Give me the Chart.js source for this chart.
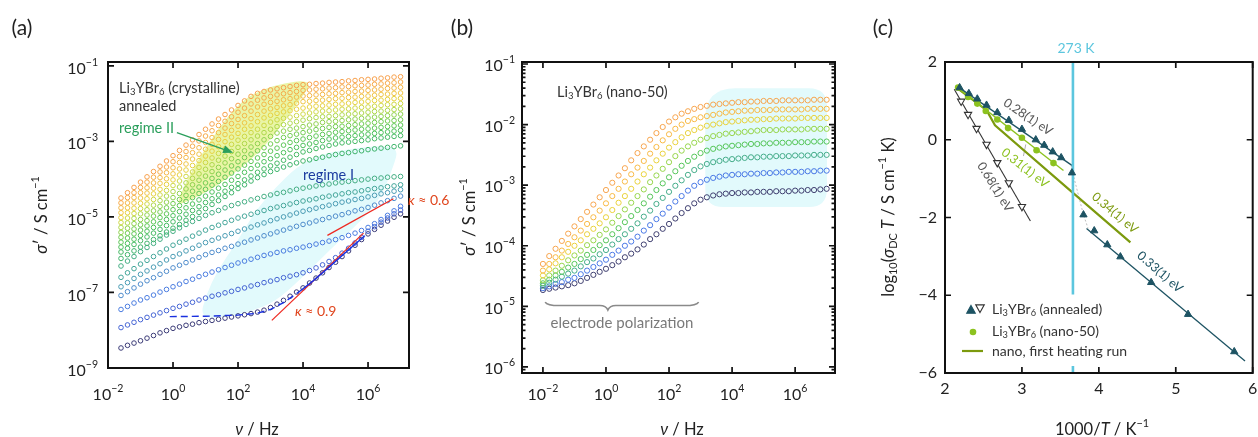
<!DOCTYPE html>
<html>
<head>
<meta charset="utf-8">
<script src="https://cdn.jsdelivr.net/npm/chart.js@4.4.1/dist/chart.umd.min.js"></script>
<style>
html, body { margin: 0; padding: 0; background: #fff; }
#wrap { position: relative; width: 1258px; height: 437px; overflow: hidden; }
canvas { position: absolute; top: 0; }
</style>
</head>
<body>
<div id="wrap">
  <canvas id="panelA" width="460" height="437" style="left:0"></canvas>
  <canvas id="panelB" width="420" height="437" style="left:420px"></canvas>
  <canvas id="panelC" width="418" height="437" style="left:840px"></canvas>
</div>
<script>
// ---------- data (log10 values) ----------

// (a) crystalline, annealed: log10(nu / Hz) and log10(sigma' / S cm-1)
const logFreqA = [-1.6,-1.4,-1.2,-1.0,-0.8,-0.6,-0.4,-0.2,0,0.2,0.4,0.6,0.8,1.0,1.2,1.4,1.6,1.8,2.0,2.2,2.4,2.6,2.8,3.0,3.2,3.4,3.6,3.8,4.0,4.2,4.4,4.6,4.8,5.0,5.2,5.4,5.6,5.8,6.0,6.2,6.4,6.6,6.8,7.0];
const crys01 = [-4.50,-4.36,-4.22,-4.08,-3.94,-3.80,-3.66,-3.52,-3.38,-3.24,-3.10,-2.96,-2.82,-2.68,-2.54,-2.41,-2.29,-2.17,-2.05,-1.93,-1.81,-1.73,-1.68,-1.64,-1.61,-1.58,-1.55,-1.52,-1.50,-1.49,-1.47,-1.46,-1.44,-1.43,-1.42,-1.40,-1.39,-1.37,-1.36,-1.35,-1.33,-1.32,-1.30,-1.29];
const crys02 = [-4.63,-4.49,-4.36,-4.22,-4.08,-3.95,-3.81,-3.68,-3.54,-3.40,-3.27,-3.13,-2.99,-2.86,-2.72,-2.58,-2.47,-2.35,-2.23,-2.12,-2.01,-1.91,-1.85,-1.81,-1.77,-1.74,-1.71,-1.68,-1.65,-1.64,-1.62,-1.61,-1.59,-1.58,-1.56,-1.55,-1.53,-1.52,-1.51,-1.49,-1.48,-1.46,-1.45,-1.43];
const crys03 = [-4.76,-4.63,-4.49,-4.36,-4.23,-4.10,-3.96,-3.83,-3.70,-3.56,-3.43,-3.30,-3.17,-3.03,-2.90,-2.77,-2.65,-2.53,-2.42,-2.32,-2.20,-2.09,-2.02,-1.97,-1.94,-1.90,-1.87,-1.83,-1.80,-1.79,-1.77,-1.76,-1.74,-1.73,-1.71,-1.70,-1.68,-1.67,-1.65,-1.64,-1.62,-1.60,-1.59,-1.57];
const crys04 = [-4.89,-4.76,-4.63,-4.50,-4.37,-4.24,-4.11,-3.99,-3.86,-3.73,-3.60,-3.47,-3.34,-3.21,-3.08,-2.95,-2.82,-2.71,-2.60,-2.51,-2.40,-2.29,-2.20,-2.14,-2.10,-2.06,-2.03,-1.99,-1.95,-1.94,-1.92,-1.91,-1.89,-1.87,-1.86,-1.84,-1.83,-1.81,-1.80,-1.78,-1.76,-1.75,-1.73,-1.72];
const crys05 = [-5.02,-4.89,-4.77,-4.64,-4.52,-4.39,-4.27,-4.14,-4.02,-3.89,-3.76,-3.64,-3.51,-3.39,-3.26,-3.14,-3.01,-2.89,-2.79,-2.68,-2.59,-2.48,-2.38,-2.31,-2.26,-2.22,-2.19,-2.15,-2.12,-2.09,-2.07,-2.06,-2.04,-2.02,-2.01,-1.99,-1.97,-1.96,-1.94,-1.92,-1.91,-1.89,-1.87,-1.86];
const crys06 = [-5.15,-5.03,-4.91,-4.78,-4.66,-4.54,-4.42,-4.30,-4.17,-4.05,-3.93,-3.81,-3.69,-3.56,-3.44,-3.32,-3.20,-3.08,-2.97,-2.87,-2.77,-2.68,-2.58,-2.49,-2.43,-2.39,-2.36,-2.32,-2.28,-2.25,-2.22,-2.20,-2.19,-2.17,-2.15,-2.14,-2.12,-2.10,-2.09,-2.07,-2.05,-2.03,-2.02,-2.00];
const crys07 = [-5.28,-5.16,-5.04,-4.92,-4.81,-4.69,-4.57,-4.45,-4.33,-4.21,-4.10,-3.98,-3.86,-3.74,-3.62,-3.50,-3.39,-3.27,-3.16,-3.06,-2.96,-2.86,-2.77,-2.68,-2.61,-2.56,-2.52,-2.48,-2.44,-2.40,-2.37,-2.35,-2.34,-2.32,-2.30,-2.28,-2.27,-2.25,-2.23,-2.21,-2.20,-2.18,-2.16,-2.14];
const crys08 = [-5.41,-5.30,-5.18,-5.07,-4.95,-4.84,-4.72,-4.61,-4.49,-4.38,-4.26,-4.15,-4.03,-3.92,-3.80,-3.69,-3.57,-3.46,-3.34,-3.25,-3.15,-3.06,-2.96,-2.87,-2.78,-2.73,-2.68,-2.65,-2.61,-2.57,-2.54,-2.50,-2.48,-2.47,-2.45,-2.43,-2.41,-2.39,-2.38,-2.36,-2.34,-2.32,-2.30,-2.28];
const crys09 = [-5.54,-5.43,-5.32,-5.21,-5.10,-4.98,-4.87,-4.76,-4.65,-4.54,-4.43,-4.32,-4.21,-4.10,-3.98,-3.87,-3.76,-3.65,-3.54,-3.43,-3.34,-3.25,-3.17,-3.07,-2.98,-2.90,-2.85,-2.81,-2.77,-2.73,-2.69,-2.66,-2.63,-2.61,-2.60,-2.58,-2.56,-2.54,-2.52,-2.50,-2.48,-2.46,-2.45,-2.43];
const crys10 = [-5.67,-5.56,-5.45,-5.35,-5.24,-5.13,-5.02,-4.92,-4.81,-4.70,-4.59,-4.49,-4.38,-4.27,-4.16,-4.06,-3.95,-3.84,-3.73,-3.63,-3.53,-3.44,-3.35,-3.26,-3.18,-3.10,-3.03,-2.98,-2.94,-2.90,-2.86,-2.82,-2.79,-2.76,-2.74,-2.72,-2.70,-2.68,-2.67,-2.65,-2.63,-2.61,-2.59,-2.57];
const crys11 = [-5.80,-5.70,-5.59,-5.49,-5.38,-5.28,-5.18,-5.07,-4.97,-4.86,-4.76,-4.66,-4.55,-4.45,-4.34,-4.24,-4.14,-4.03,-3.93,-3.82,-3.72,-3.63,-3.54,-3.46,-3.38,-3.30,-3.22,-3.16,-3.11,-3.07,-3.03,-2.98,-2.94,-2.91,-2.89,-2.87,-2.85,-2.83,-2.81,-2.79,-2.77,-2.75,-2.73,-2.71];
const crys12 = [-5.93,-5.83,-5.73,-5.63,-5.53,-5.43,-5.33,-5.23,-5.13,-5.03,-4.93,-4.83,-4.73,-4.62,-4.52,-4.42,-4.32,-4.22,-4.12,-4.02,-3.92,-3.82,-3.73,-3.65,-3.58,-3.50,-3.42,-3.35,-3.28,-3.24,-3.19,-3.15,-3.11,-3.07,-3.04,-3.02,-3.00,-2.98,-2.96,-2.93,-2.91,-2.89,-2.87,-2.85];
const crys13 = [-6.10,-6.00,-5.90,-5.80,-5.70,-5.60,-5.50,-5.40,-5.30,-5.20,-5.09,-4.99,-4.88,-4.78,-4.67,-4.57,-4.46,-4.36,-4.25,-4.15,-4.05,-3.96,-3.88,-3.80,-3.74,-3.68,-3.62,-3.57,-3.52,-3.49,-3.45,-3.42,-3.38,-3.35,-3.32,-3.30,-3.27,-3.25,-3.22,-3.20,-3.18,-3.16,-3.14,-3.12];
const crys14 = [-6.30,-6.17,-6.05,-5.92,-5.81,-5.70,-5.59,-5.48,-5.38,-5.29,-5.20,-5.12,-5.04,-4.96,-4.89,-4.83,-4.76,-4.70,-4.65,-4.60,-4.55,-4.51,-4.46,-4.42,-4.38,-4.35,-4.31,-4.27,-4.24,-4.21,-4.18,-4.15,-4.13,-4.10,-4.08,-4.06,-4.04,-4.02,-4.00,-3.98,-3.97,-3.95,-3.94,-3.93];
const crys15 = [-6.60,-6.48,-6.37,-6.25,-6.15,-6.05,-5.95,-5.85,-5.75,-5.67,-5.59,-5.51,-5.43,-5.35,-5.28,-5.22,-5.15,-5.09,-5.03,-4.98,-4.93,-4.88,-4.83,-4.78,-4.74,-4.70,-4.66,-4.62,-4.58,-4.55,-4.52,-4.48,-4.45,-4.42,-4.39,-4.36,-4.34,-4.31,-4.28,-4.25,-4.23,-4.20,-4.18,-4.15];
const crys16 = [-6.85,-6.74,-6.63,-6.52,-6.43,-6.33,-6.24,-6.14,-6.05,-5.98,-5.90,-5.83,-5.75,-5.68,-5.62,-5.56,-5.50,-5.44,-5.38,-5.32,-5.27,-5.21,-5.16,-5.10,-5.05,-5.00,-4.95,-4.90,-4.85,-4.81,-4.77,-4.73,-4.69,-4.65,-4.61,-4.58,-4.54,-4.51,-4.47,-4.43,-4.39,-4.36,-4.32,-4.28];
const crys17 = [-7.08,-6.98,-6.88,-6.78,-6.69,-6.61,-6.52,-6.44,-6.35,-6.28,-6.21,-6.14,-6.07,-6.00,-5.94,-5.89,-5.83,-5.78,-5.72,-5.67,-5.61,-5.56,-5.50,-5.45,-5.40,-5.35,-5.30,-5.25,-5.20,-5.16,-5.11,-5.07,-5.02,-4.98,-4.94,-4.89,-4.84,-4.80,-4.75,-4.69,-4.63,-4.57,-4.51,-4.45];
const crys18 = [-7.45,-7.37,-7.28,-7.20,-7.14,-7.07,-6.99,-6.92,-6.85,-6.78,-6.71,-6.65,-6.58,-6.52,-6.46,-6.40,-6.34,-6.28,-6.22,-6.17,-6.12,-6.07,-6.02,-5.98,-5.94,-5.90,-5.87,-5.83,-5.80,-5.76,-5.72,-5.68,-5.64,-5.60,-5.55,-5.49,-5.43,-5.36,-5.28,-5.18,-5.07,-4.96,-4.84,-4.72];
const crys19 = [-7.93,-7.86,-7.79,-7.72,-7.66,-7.60,-7.54,-7.48,-7.42,-7.37,-7.31,-7.26,-7.20,-7.15,-7.10,-7.06,-7.01,-6.97,-6.92,-6.88,-6.83,-6.79,-6.74,-6.70,-6.66,-6.61,-6.57,-6.53,-6.48,-6.42,-6.35,-6.27,-6.18,-6.08,-5.96,-5.83,-5.69,-5.54,-5.38,-5.26,-5.14,-5.03,-4.92,-4.82];
const crys20 = [-8.47,-8.40,-8.34,-8.28,-8.21,-8.14,-8.07,-8.01,-7.95,-7.91,-7.87,-7.84,-7.80,-7.77,-7.74,-7.71,-7.68,-7.65,-7.62,-7.59,-7.56,-7.52,-7.47,-7.40,-7.31,-7.21,-7.10,-6.99,-6.88,-6.75,-6.62,-6.48,-6.34,-6.20,-6.05,-5.90,-5.75,-5.60,-5.45,-5.33,-5.22,-5.11,-5.01,-4.92];

// (a) fit of the lowest curve (dashed part + solid part) and the two power-law lines
const fitDashX = [-0.1, 1.0, 2.0, 2.6, 3.0, 3.4, 3.85];
const fitDashY = [-7.64, -7.63, -7.60, -7.55, -7.45, -7.27, -7.00];
const fitSolidX = [3.85, 4.3, 4.8, 5.3, 5.9];
const fitSolidY = [-7.00, -6.70, -6.33, -5.95, -5.50];
const kappa06X = [4.75, 6.78], kappa06Y = [-5.49, -4.52];
const kappa09X = [3.04, 5.86], kappa09Y = [-7.74, -5.43];

// (a) shaded regimes, outline points [log nu, log sigma]
const regimeTwo = [[0.09,-4.68],[0.55,-3.80],[1.39,-2.66],[2.09,-1.95],[2.71,-1.63],[3.45,-1.45],[4.06,-1.39],[4.22,-1.52],[3.91,-1.90],[2.74,-3.27],[1.29,-4.23],[0.37,-4.62]];
const regimeOne = [[0.83,-7.67],[1.02,-7.06],[1.38,-6.40],[1.91,-5.74],[2.52,-4.86],[3.14,-4.23],[3.82,-3.67],[4.52,-3.35],[5.45,-3.19],[6.52,-3.11],[6.92,-3.22],[6.80,-3.62],[6.37,-4.54],[5.75,-5.13],[4.83,-5.87],[3.91,-6.66],[3.14,-7.25],[2.37,-7.51],[1.60,-7.67]];
const arrowTwo = [[0.12, -2.77], [1.85, -3.30]];

// (b) nano-50
const logFreqB = [-2.0,-1.8,-1.6,-1.4,-1.2,-1.0,-0.8,-0.6,-0.4,-0.2,0,0.2,0.4,0.6,0.8,1.0,1.2,1.4,1.6,1.8,2.0,2.2,2.4,2.6,2.8,3.0,3.2,3.4,3.6,3.8,4.0,4.2,4.4,4.6,4.8,5.0,5.2,5.4,5.6,5.8,6.0,6.2,6.4,6.6,6.8,7.0];
const nano1 = [-4.30,-4.17,-4.05,-3.92,-3.80,-3.68,-3.56,-3.44,-3.32,-3.20,-3.08,-2.96,-2.84,-2.72,-2.59,-2.47,-2.36,-2.25,-2.14,-2.04,-1.95,-1.88,-1.82,-1.78,-1.74,-1.71,-1.69,-1.67,-1.66,-1.65,-1.64,-1.63,-1.63,-1.62,-1.62,-1.61,-1.61,-1.61,-1.60,-1.60,-1.60,-1.60,-1.60,-1.59,-1.59,-1.59];
const nano2 = [-4.41,-4.30,-4.19,-4.08,-3.97,-3.86,-3.75,-3.64,-3.53,-3.42,-3.30,-3.18,-3.06,-2.94,-2.82,-2.71,-2.60,-2.48,-2.37,-2.26,-2.16,-2.07,-2.00,-1.94,-1.91,-1.88,-1.86,-1.84,-1.82,-1.80,-1.79,-1.78,-1.77,-1.77,-1.76,-1.76,-1.76,-1.75,-1.75,-1.75,-1.75,-1.75,-1.74,-1.74,-1.74,-1.74];
const nano3 = [-4.49,-4.39,-4.29,-4.19,-4.10,-4.00,-3.91,-3.81,-3.72,-3.63,-3.53,-3.41,-3.29,-3.18,-3.06,-2.94,-2.82,-2.71,-2.59,-2.48,-2.38,-2.29,-2.21,-2.14,-2.09,-2.05,-2.02,-2.00,-1.98,-1.96,-1.95,-1.94,-1.93,-1.92,-1.92,-1.91,-1.91,-1.90,-1.90,-1.90,-1.90,-1.89,-1.89,-1.89,-1.89,-1.89];
const nano4 = [-4.57,-4.49,-4.41,-4.33,-4.24,-4.16,-4.08,-3.99,-3.91,-3.82,-3.73,-3.62,-3.51,-3.40,-3.29,-3.18,-3.07,-2.95,-2.84,-2.73,-2.62,-2.52,-2.43,-2.36,-2.30,-2.25,-2.22,-2.19,-2.17,-2.15,-2.14,-2.13,-2.12,-2.11,-2.10,-2.09,-2.09,-2.09,-2.08,-2.08,-2.08,-2.08,-2.07,-2.07,-2.07,-2.07];
const nano5 = [-4.62,-4.56,-4.49,-4.43,-4.36,-4.30,-4.22,-4.15,-4.07,-3.99,-3.91,-3.81,-3.71,-3.61,-3.51,-3.41,-3.30,-3.19,-3.08,-2.97,-2.87,-2.77,-2.68,-2.60,-2.53,-2.47,-2.43,-2.40,-2.38,-2.36,-2.35,-2.34,-2.33,-2.32,-2.32,-2.31,-2.31,-2.30,-2.30,-2.30,-2.29,-2.29,-2.29,-2.28,-2.28,-2.28];
const nano6 = [-4.66,-4.61,-4.56,-4.51,-4.46,-4.41,-4.34,-4.27,-4.21,-4.14,-4.07,-3.98,-3.89,-3.81,-3.72,-3.63,-3.52,-3.42,-3.31,-3.21,-3.11,-3.01,-2.92,-2.83,-2.75,-2.69,-2.65,-2.62,-2.60,-2.58,-2.57,-2.56,-2.55,-2.54,-2.54,-2.53,-2.53,-2.52,-2.52,-2.52,-2.51,-2.51,-2.51,-2.50,-2.50,-2.50];
const nano7 = [-4.70,-4.67,-4.63,-4.60,-4.56,-4.53,-4.47,-4.41,-4.35,-4.29,-4.23,-4.15,-4.08,-4.00,-3.93,-3.85,-3.75,-3.66,-3.56,-3.47,-3.37,-3.27,-3.18,-3.09,-3.01,-2.95,-2.91,-2.88,-2.86,-2.84,-2.83,-2.82,-2.82,-2.81,-2.81,-2.80,-2.80,-2.79,-2.79,-2.78,-2.78,-2.78,-2.77,-2.77,-2.76,-2.76];
const nano8 = [-4.73,-4.71,-4.69,-4.67,-4.65,-4.62,-4.58,-4.53,-4.48,-4.43,-4.38,-4.32,-4.26,-4.19,-4.13,-4.06,-3.98,-3.89,-3.81,-3.72,-3.64,-3.55,-3.46,-3.38,-3.30,-3.24,-3.20,-3.17,-3.15,-3.14,-3.13,-3.13,-3.12,-3.12,-3.11,-3.11,-3.11,-3.10,-3.10,-3.10,-3.09,-3.09,-3.08,-3.08,-3.07,-3.06];
const plateauBox = [3.15, 7.01, -1.40, -3.36]; // log nu from/to, log sigma top/bottom
const braceB = [-1.93, 0.06, 2.94, -4.93];     // log nu left, tip, right; log sigma

// (c) Arrhenius plot: 1000/T and log10(sigma_DC T)
const annealedX = [2.19, 2.31, 2.42, 2.54, 2.68, 2.83, 3.00, 3.18, 3.29, 3.40, 3.51, 3.65, 3.80, 3.94, 4.11, 4.28, 4.68, 5.16, 5.76];
const annealedY = [1.34, 1.19, 1.05, 0.89, 0.70, 0.50, 0.27, 0.00, -0.14, -0.31, -0.46, -0.85, -1.93, -2.34, -2.70, -3.01, -3.67, -4.49, -5.45];
const quenchX = [2.21, 2.30, 2.41, 2.54, 2.68, 2.83, 3.00];
const quenchY = [0.99, 0.65, 0.29, -0.12, -0.59, -1.11, -1.72];
const nanoX = [2.17, 2.30, 2.42, 2.53, 2.68, 2.82, 3.00, 3.19, 3.41];
const nanoY = [1.34, 1.10, 0.93, 0.74, 0.52, 0.30, 0.05, -0.27, -0.60];
const firstRunX = [2.15, 2.54, 2.65, 3.66, 4.41];
const firstRunY = [1.34, 0.76, 0.37, -1.36, -2.64];
const fitHighX = [2.17, 3.65], fitHighY = [1.36, -0.66];
const fitLowX = [3.84, 5.90], fitLowY = [-2.28, -5.69];
const fitQuenchX = [2.12, 3.11], fitQuenchY = [1.30, -2.09];
const fitNanoX = [2.15, 3.54], fitNanoY = [1.36, -0.79];
const jumpX = [3.64, 3.66, 3.80, 3.86], jumpY = [-0.66, -0.85, -1.93, -2.28];
const leaderX = [3.05, 3.02], leaderY = [-0.12, -0.42];
const line273 = 1000 / 273;

// tick values
const ticksAx = [-2, 0, 2, 4, 6], ticksAy = [-1, -3, -5, -7, -9];
const ticksBx = [-2, 0, 2, 4, 6], ticksBy = [-1, -2, -3, -4, -5, -6];
const ticksCx = [2, 3, 4, 5, 6], ticksCy = [2, 0, -2, -4, -6];

// ---------- helpers ----------
const FONT = 'Lato, "Open Sans", sans-serif';
Chart.defaults.font.family = FONT;

function fnt(size, italic) {
    return (italic ? 'italic ' : '') + size + 'px ' + FONT;
}

// text with italic / sub / sup pieces
function rich(ctx, parts, x, y, o) {
    o = o || {};
    const fs = o.size || 15;
    ctx.save();
    ctx.translate(x, y);
    if (o.rot) ctx.rotate(o.rot * Math.PI / 180);
    ctx.fillStyle = o.color || '#222';
    ctx.textBaseline = 'middle';
    ctx.textAlign = 'left';
    const items = parts.map(p => {
        const k = p[1] || '';
        const small = k === 'sup' || k === 'sub';
        const f = fnt(small ? fs * 0.66 : fs, k === 'i');
        ctx.font = f;
        return { t: p[0], f: f, w: ctx.measureText(p[0]).width, dy: k === 'sup' ? -fs * 0.4 : (k === 'sub' ? fs * 0.3 : 0) };
    });
    const total = items.reduce((s, it) => s + it.w, 0);
    let cx = o.align === 'center' ? -total / 2 : (o.align === 'right' ? -total : 0);
    items.forEach(it => {
        ctx.font = it.f;
        ctx.fillText(it.t, cx, it.dy);
        cx += it.w;
    });
    ctx.restore();
}

const minus = v => (v < 0 ? '\u2212' + (-v) : String(v));
const powLabel = v => [['10'], [minus(v), 'sup']];

function drawFrame(chart, o) {
    const ctx = chart.ctx, a = chart.chartArea;
    const X = v => chart.scales.x.getPixelForValue(o.log ? 10 ** v : v);
    const Y = v => chart.scales.y.getPixelForValue(o.log ? 10 ** v : v);
    ctx.save();
    ctx.strokeStyle = '#111';
    ctx.lineWidth = 1.7;
    ctx.beginPath();
    o.xt.forEach(v => {
        const p = X(v);
        ctx.moveTo(p, a.bottom); ctx.lineTo(p, a.bottom - 6);
        ctx.moveTo(p, a.top); ctx.lineTo(p, a.top + 6);
    });
    o.yt.forEach(v => {
        const p = Y(v);
        ctx.moveTo(a.left, p); ctx.lineTo(a.left + 6, p);
        ctx.moveTo(a.right, p); ctx.lineTo(a.right - 6, p);
    });
    (o.ym || []).forEach(v => {
        const p = chart.scales.y.getPixelForValue(v);
        ctx.moveTo(a.left, p); ctx.lineTo(a.left + 3.5, p);
        ctx.moveTo(a.right, p); ctx.lineTo(a.right - 3.5, p);
    });
    ctx.stroke();
    ctx.lineWidth = 2;
    ctx.strokeRect(a.left, a.top, a.right - a.left, a.bottom - a.top);
    o.xt.forEach(v => rich(ctx, o.lab(v), X(v), a.bottom + o.xdy, { size: 16, align: 'center' }));
    o.yt.forEach(v => rich(ctx, o.lab(v), a.left - o.ydx, Y(v) + o.ydy, { size: 16, align: 'right' }));
    ctx.restore();
}

// closed smooth outline through midpoints
function blob(ctx, pts) {
    const n = pts.length;
    const mid = (p, q) => [(p[0] + q[0]) / 2, (p[1] + q[1]) / 2];
    const m0 = mid(pts[n - 1], pts[0]);
    ctx.beginPath();
    ctx.moveTo(m0[0], m0[1]);
    for (let i = 0; i < n; i++) {
        const m = mid(pts[i], pts[(i + 1) % n]);
        ctx.quadraticCurveTo(pts[i][0], pts[i][1], m[0], m[1]);
    }
    ctx.closePath();
}

function roundBox(ctx, x0, y0, x1, y1, r) {
    ctx.beginPath();
    ctx.moveTo(x0 + r[0], y0);
    ctx.lineTo(x1 - r[1], y0); ctx.quadraticCurveTo(x1, y0, x1, y0 + r[1]);
    ctx.lineTo(x1, y1 - r[2]); ctx.quadraticCurveTo(x1, y1, x1 - r[2], y1);
    ctx.lineTo(x0 + r[3], y1); ctx.quadraticCurveTo(x0, y1, x0, y1 - r[3]);
    ctx.lineTo(x0, y0 + r[0]); ctx.quadraticCurveTo(x0, y0, x0 + r[0], y0);
    ctx.closePath();
}

const logPts = (xs, ys) => xs.map((v, i) => ({ x: 10 ** v, y: 10 ** ys[i] }));
const linPts = (xs, ys) => xs.map((v, i) => ({ x: v, y: ys[i] }));

function makeChart(id, pad, xs, ys, datasets, under, over) {
    return new Chart(document.getElementById(id), {
        type: 'scatter',
        data: { datasets: datasets },
        options: {
            responsive: false,
            animation: false,
            devicePixelRatio: 1,
            events: [],
            layout: { padding: pad },
            plugins: { legend: { display: false }, tooltip: { enabled: false } },
            scales: {
                x: Object.assign({ display: false, bounds: 'data' }, xs),
                y: Object.assign({ display: false, bounds: 'data' }, ys)
            }
        },
        plugins: [{
            id: 'deco',
            beforeDatasetsDraw: c => { if (under) under(c); },
            afterDatasetsDraw: c => over(c)
        }]
    });
}

function circles(points, color, r) {
    return {
        data: points, showLine: false, pointRadius: r, pointBorderWidth: 1,
        pointBackgroundColor: 'rgba(0,0,0,0)', pointBorderColor: color, borderColor: color, order: 5
    };
}

function line(points, color, width, extra) {
    return Object.assign({
        data: points, showLine: true, pointRadius: 0, borderColor: color, borderWidth: width, order: 3
    }, extra || {});
}

// ---------- panel (a) ----------
const crysCurves = [crys01, crys02, crys03, crys04, crys05, crys06, crys07, crys08, crys09, crys10,
    crys11, crys12, crys13, crys14, crys15, crys16, crys17, crys18, crys19, crys20];
const crysColors = ['#f7a04c', '#f6ab4a', '#f4b747', '#efc544', '#e6d140', '#cdd845', '#aed74a', '#8fd24e', '#72cc52', '#5cc656',
    '#4dc05c', '#45b964', '#40b46c', '#45ae84', '#44a69a', '#4a9cb4', '#4f8ccc', '#4a7ce0', '#4564d4', '#3b3b77'];

const dsA = crysCurves.map((c, k) => circles(logPts(logFreqA, c), crysColors[k], 2.3));
dsA.push(line(logPts(fitDashX, fitDashY), '#1a30e0', 1.4, { borderDash: [7, 4], order: 1 }));
dsA.push(line(logPts(fitSolidX, fitSolidY), '#1a30e0', 1.4, { order: 1 }));
dsA.push(line(logPts(kappa06X, kappa06Y), '#ee2a22', 1.3, { order: 1 }));
dsA.push(line(logPts(kappa09X, kappa09Y), '#ee2a22', 1.3, { order: 1 }));

makeChart('panelA', { left: 108, right: 51, top: 62, bottom: 69 },
    { type: 'logarithmic', min: 10 ** -2, max: 10 ** 7.26 },
    { type: 'logarithmic', min: 10 ** -9, max: 10 ** -0.9 },
    dsA,
    c => {
        const ctx = c.ctx, sx = c.scales.x, sy = c.scales.y;
        const px = p => [sx.getPixelForValue(10 ** p[0]), sy.getPixelForValue(10 ** p[1])];
        ctx.save();
        ctx.fillStyle = '#e2fafc';
        blob(ctx, regimeOne.map(px)); ctx.fill();
        ctx.fillStyle = '#e9f5a6';
        blob(ctx, regimeTwo.map(px)); ctx.fill();
        ctx.restore();
    },
    c => {
        const ctx = c.ctx, sx = c.scales.x, sy = c.scales.y;
        drawFrame(c, { log: true, xt: ticksAx, yt: ticksAy, lab: powLabel, xdy: 27, ydx: 10, ydy: 3 });
        // arrow to regime II
        const p0 = [sx.getPixelForValue(10 ** arrowTwo[0][0]), sy.getPixelForValue(10 ** arrowTwo[0][1])];
        const p1 = [sx.getPixelForValue(10 ** arrowTwo[1][0]), sy.getPixelForValue(10 ** arrowTwo[1][1])];
        const ang = Math.atan2(p1[1] - p0[1], p1[0] - p0[0]);
        ctx.save();
        ctx.strokeStyle = ctx.fillStyle = '#2b9f5c';
        ctx.lineWidth = 1.4;
        ctx.beginPath(); ctx.moveTo(p0[0], p0[1]);
        ctx.lineTo(p1[0] - 7 * Math.cos(ang), p1[1] - 7 * Math.sin(ang)); ctx.stroke();
        ctx.translate(p1[0], p1[1]); ctx.rotate(ang);
        ctx.beginPath(); ctx.moveTo(0, 0); ctx.lineTo(-10, -4); ctx.lineTo(-10, 4); ctx.closePath(); ctx.fill();
        ctx.restore();

        rich(ctx, [['Li'], ['3', 'sub'], ['YBr'], ['6', 'sub'], [' (crystalline)']], 119, 88, { size: 14.5, color: '#333' });
        rich(ctx, [['annealed']], 119, 106, { size: 14.5, color: '#333' });
        rich(ctx, [['regime II']], 119, 128, { size: 14.5, color: '#2b9f5c' });
        rich(ctx, [['regime I']], 303, 175, { size: 14.5, color: '#1c3ca0' });
        rich(ctx, [['\u03ba', 'i'], [' \u2248 0.9']], 295, 311, { size: 14, color: '#e0461e' });
        rich(ctx, [['\u03ba', 'i'], [' \u2248 0.6']], 408, 200, { size: 14, color: '#e0461e' });
        rich(ctx, [['(a)']], 22, 28, { size: 21, align: 'center' });
        rich(ctx, [['\u03bd', 'i'], [' / Hz']], 257, 430, { size: 16.5, align: 'center' });
        rich(ctx, [['\u03c3', 'i'], ['\u2032 / S cm'], ['\u22121', 'sup']], 42, 215, { size: 16.5, align: 'center', rot: -90 });
    });

// ---------- panel (b) ----------
const nanoCurves = [nano1, nano2, nano3, nano4, nano5, nano6, nano7, nano8];
const nanoColors = ['#f7a54e', '#f8ba45', '#e9d23c', '#97d64c', '#56c65a', '#45ad8a', '#4a79e6', '#3f3f70'];
const dsB = nanoCurves.map((c, k) => circles(logPts(logFreqB, c), nanoColors[k], 2.6));

const minorB = [];
for (let e = -7; e <= -1; e++) {
    for (let m = 2; m <= 9; m++) {
        const v = m * 10 ** e;
        if (v > 10 ** -6.1 && v < 10 ** -0.97) minorB.push(v);
    }
}

makeChart('panelB', { left: 102, right: 4, top: 62, bottom: 64 },
    { type: 'logarithmic', min: 10 ** -2.664, max: 10 ** 7.265 },
    { type: 'logarithmic', min: 10 ** -6.1, max: 10 ** -0.967 },
    dsB,
    c => {
        const ctx = c.ctx, sx = c.scales.x, sy = c.scales.y;
        ctx.save();
        ctx.fillStyle = '#e2fafc';
        roundBox(ctx, sx.getPixelForValue(10 ** plateauBox[0]), sy.getPixelForValue(10 ** plateauBox[2]),
            sx.getPixelForValue(10 ** plateauBox[1]), sy.getPixelForValue(10 ** plateauBox[3]), [30, 18, 18, 18]);
        ctx.fill();
        ctx.restore();
    },
    c => {
        const ctx = c.ctx, sx = c.scales.x, sy = c.scales.y;
        drawFrame(c, { log: true, xt: ticksBx, yt: ticksBy, ym: minorB, lab: powLabel, xdy: 22, ydx: 7, ydy: 2 });
        // brace under the low-frequency part
        const xl = sx.getPixelForValue(10 ** braceB[0]), xt = sx.getPixelForValue(10 ** braceB[1]);
        const xr = sx.getPixelForValue(10 ** braceB[2]), y0 = sy.getPixelForValue(10 ** braceB[3]);
        ctx.save();
        ctx.strokeStyle = '#8a8a8a';
        ctx.lineWidth = 1.5;
        ctx.beginPath();
        ctx.moveTo(xl, y0);
        ctx.quadraticCurveTo(xl + 2, y0 + 3.5, xl + 14, y0 + 3.5);
        ctx.lineTo(xt - 8, y0 + 3.5);
        ctx.quadraticCurveTo(xt - 2, y0 + 3.5, xt, y0 + 8);
        ctx.quadraticCurveTo(xt + 2, y0 + 3.5, xt + 8, y0 + 3.5);
        ctx.lineTo(xr - 14, y0 + 3.5);
        ctx.quadraticCurveTo(xr - 2, y0 + 3.5, xr, y0);
        ctx.stroke();
        ctx.restore();
        rich(ctx, [['electrode polarization']], 202, 323, { size: 15, align: 'center', color: '#7a7a7a' });
        rich(ctx, [['Li'], ['3', 'sub'], ['YBr'], ['6', 'sub'], [' (nano-50)']], 137, 92, { size: 14.5, color: '#333' });
        rich(ctx, [['(b)']], 42, 28, { size: 21, align: 'center' });
        rich(ctx, [['\u03bd', 'i'], [' / Hz']], 262, 430, { size: 16.5, align: 'center' });
        rich(ctx, [['\u03c3', 'i'], ['\u2032 / S cm'], ['\u22121', 'sup']], 50, 217, { size: 16.5, align: 'center', rot: -90 });
    });

// ---------- panel (c) ----------
const dsC = [
    line(linPts(fitHighX, fitHighY), '#1d5363', 1.3),
    line(linPts(fitLowX, fitLowY), '#1d5363', 1.3),
    line(linPts(fitQuenchX, fitQuenchY), '#333333', 1.1),
    line(linPts(fitNanoX, fitNanoY), '#8cc21f', 1.3),
    line(linPts(firstRunX, firstRunY), '#7c9a0e', 2.2),
    line(linPts(jumpX, jumpY), '#bdbdbd', 1, { borderDash: [2, 2] }),
    line(linPts(leaderX, leaderY), '#b0b0b0', 1),
    line([{ x: line273, y: 2 }, { x: line273, y: -3.98 }, { x: line273, y: null }, { x: line273, y: -5.82 }, { x: line273, y: -6 }],
        '#5cc6de', 2.6, { order: 2, spanGaps: false }),
    { data: linPts(annealedX, annealedY), showLine: false, pointStyle: 'triangle', pointRadius: 4.2,
        pointBackgroundColor: '#1d5363', pointBorderColor: '#1d5363', pointBorderWidth: 1, order: 0 },
    { data: linPts(quenchX, quenchY), showLine: false, pointStyle: 'triangle', pointRotation: 180, pointRadius: 4.2,
        pointBackgroundColor: '#ffffff', pointBorderColor: '#333333', pointBorderWidth: 1.1, order: 0 },
    { data: linPts(nanoX, nanoY), showLine: false, pointStyle: 'circle', pointRadius: 3.3,
        pointBackgroundColor: '#8cc21f', pointBorderColor: '#8cc21f', pointBorderWidth: 0, order: 0 }
];

function tri(ctx, x, y, s, down, fill, stroke) {
    ctx.beginPath();
    const d = down ? -1 : 1;
    ctx.moveTo(x, y - d * s);
    ctx.lineTo(x + s * 0.95, y + d * s * 0.7);
    ctx.lineTo(x - s * 0.95, y + d * s * 0.7);
    ctx.closePath();
    ctx.fillStyle = fill; ctx.fill();
    ctx.strokeStyle = stroke; ctx.lineWidth = 1.1; ctx.stroke();
}

makeChart('panelC', { left: 105, right: 3, top: 62, bottom: 64 },
    { type: 'linear', min: 2, max: 6 },
    { type: 'linear', min: -6, max: 2 },
    dsC,
    null,
    c => {
        const ctx = c.ctx;
        drawFrame(c, { log: false, xt: ticksCx, yt: ticksCy, lab: v => [[minus(v)]], xdy: 16, ydx: 8, ydy: 0 });
        rich(ctx, [['273 K']], 236, 48, { size: 14, align: 'center', color: '#5cc6de' });
        rich(ctx, [['0.28(1) eV']], 188, 117, { size: 12.5, align: 'center', color: '#555', rot: 34 });
        rich(ctx, [['0.31(1) eV']], 185, 168, { size: 12.5, align: 'center', color: '#8cc21f', rot: 38 });
        rich(ctx, [['0.68(1) eV']], 155, 187, { size: 12.5, align: 'center', color: '#555', rot: 58 });
        rich(ctx, [['0.34(1) eV']], 275, 213, { size: 12.5, align: 'center', color: '#7c9a0e', rot: 40 });
        rich(ctx, [['0.33(1) eV']], 320, 272, { size: 12.5, align: 'center', color: '#1d5363', rot: 41 });
        // legend
        ctx.save();
        tri(ctx, 131, 310, 4.5, false, '#1d5363', '#1d5363');
        tri(ctx, 140, 308, 4.5, true, '#ffffff', '#333333');
        ctx.beginPath(); ctx.arc(133, 332, 3.3, 0, Math.PI * 2); ctx.fillStyle = '#8cc21f'; ctx.fill();
        ctx.strokeStyle = '#7c9a0e'; ctx.lineWidth = 2.2;
        ctx.beginPath(); ctx.moveTo(122, 351); ctx.lineTo(143, 351); ctx.stroke();
        ctx.restore();
        rich(ctx, [['Li'], ['3', 'sub'], ['YBr'], ['6', 'sub'], [' (annealed)']], 152, 309, { size: 14, color: '#333' });
        rich(ctx, [['Li'], ['3', 'sub'], ['YBr'], ['6', 'sub'], [' (nano-50)']], 152, 331, { size: 14, color: '#333' });
        rich(ctx, [['nano, first heating run']], 152, 351, { size: 14, color: '#333' });
        rich(ctx, [['(c)']], 43, 28, { size: 21, align: 'center' });
        rich(ctx, [['1000/'], ['T', 'i'], [' / K'], ['\u22121', 'sup']], 262, 430, { size: 16.5, align: 'center' });
        rich(ctx, [['log'], ['10', 'sub'], ['('], ['\u03c3', 'i'], ['DC', 'sub'], [' '], ['T', 'i'], [' / S cm'], ['\u22121', 'sup'], [' K)']],
            49, 217, { size: 16.5, align: 'center', rot: -90 });
    });
</script>
</body>
</html>
